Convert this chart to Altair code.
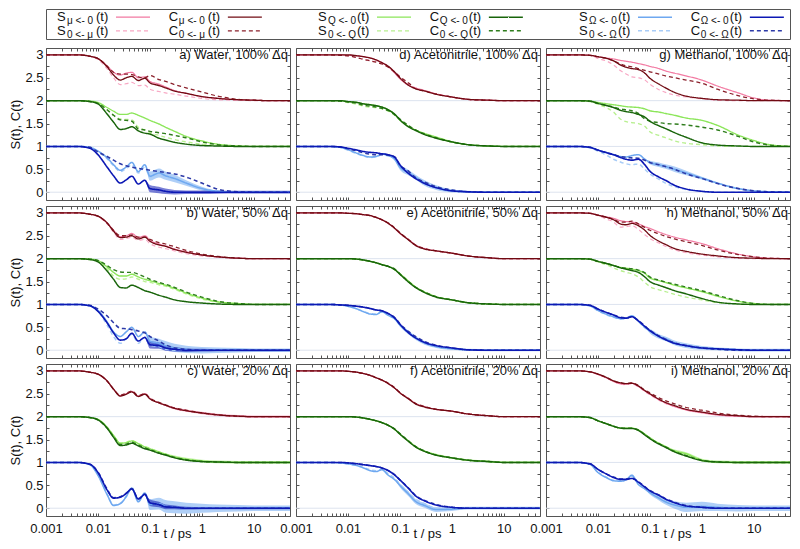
import altair as alt
import pandas as pd

T = [0.001, 0.004, 0.007, 0.01, 0.015, 0.02, 0.027, 0.035, 0.045, 0.06, 0.08, 0.1,
     0.15, 0.2, 0.3, 0.5, 1, 2, 5, 10, 20, 50]

SERIES = ["S0mu", "Smu", "C0mu", "Cmu", "S0Q", "SQ", "C0Q", "CQ", "S0W", "SW", "C0W", "CW"]
COLORS = ["#f8a8c4", "#f27aa2", "#8a1f2a", "#700a12",
          "#b8f090", "#8ce65a", "#2f7d1d", "#18640a",
          "#a8ccf7", "#6ea8f0", "#2d3aa8", "#0c18b4"]
DASHES = [[4, 3], [1, 0], [4, 3], [1, 0]] * 3
WIDTHS = [1.2, 1.6, 1.2, 1.8] * 3

PANEL_A = {
    "Smu":  [3, 3, 2.97, 2.92, 2.76, 2.62, 2.56, 2.6, 2.62, 2.5, 2.52, 2.42, 2.36, 2.3, 2.22, 2.16, 2.09, 2.05, 2.02, 2.01, 2.0, 2.0],
    "S0mu": [3, 3, 2.97, 2.9, 2.7, 2.5, 2.35, 2.37, 2.4, 2.33, 2.34, 2.25, 2.2, 2.17, 2.14, 2.1, 2.05, 2.02, 2.01, 2.0, 2.0, 2.0],
    "Cmu":  [3, 3, 2.97, 2.92, 2.74, 2.56, 2.45, 2.5, 2.53, 2.44, 2.49, 2.39, 2.33, 2.28, 2.21, 2.16, 2.09, 2.05, 2.02, 2.01, 2.0, 2.0],
    "C0mu": [3, 3, 2.97, 2.92, 2.76, 2.62, 2.58, 2.58, 2.57, 2.52, 2.5, 2.55, 2.46, 2.42, 2.35, 2.28, 2.19, 2.1, 2.03, 2.01, 2.0, 2.0],
    "SQ":   [2, 2, 1.99, 1.96, 1.85, 1.77, 1.7, 1.7, 1.73, 1.68, 1.62, 1.57, 1.49, 1.42, 1.33, 1.22, 1.12, 1.05, 1.01, 1.0, 1.0, 1.0],
    "S0Q":  [2, 2, 1.98, 1.95, 1.8, 1.68, 1.6, 1.59, 1.58, 1.42, 1.36, 1.3, 1.24, 1.2, 1.15, 1.1, 1.05, 1.02, 1.0, 1.0, 1.0, 1.0],
    "CQ":   [2, 2, 1.98, 1.93, 1.71, 1.53, 1.37, 1.39, 1.43, 1.34, 1.29, 1.27, 1.18, 1.14, 1.09, 1.05, 1.02, 1.01, 1.0, 1.0, 1.0, 1.0],
    "C0Q":  [2, 2, 1.98, 1.94, 1.8, 1.68, 1.58, 1.57, 1.55, 1.38, 1.36, 1.33, 1.3, 1.28, 1.24, 1.19, 1.1, 1.04, 1.01, 1.0, 1.0, 1.0],
    "SW":   [1, 1, 0.98, 0.9, 0.75, 0.6, 0.48, 0.55, 0.65, 0.45, 0.6, 0.35, 0.42, 0.36, 0.3, 0.2, 0.08, 0.02, 0.0, 0.0, 0.0, 0.0],
    "S0W":  [1, 1, 0.98, 0.89, 0.73, 0.58, 0.45, 0.52, 0.6, 0.42, 0.55, 0.33, 0.38, 0.33, 0.28, 0.2, 0.09, 0.02, 0.0, 0.0, 0.0, 0.0],
    "CW":   [1, 1, 0.96, 0.82, 0.55, 0.36, 0.2, 0.27, 0.35, 0.18, 0.26, 0.08, 0.05, 0.02, 0.0, 0.0, 0.0, 0.0, 0.0, 0.0, 0.0, 0.0],
    "C0W":  [1, 1, 0.98, 0.88, 0.78, 0.7, 0.62, 0.58, 0.55, 0.52, 0.5, 0.48, 0.45, 0.43, 0.4, 0.33, 0.2, 0.07, 0.01, 0.0, 0.0, 0.0],
}
PANEL_B = {
    "Smu":  [3, 3, 2.97, 2.93, 2.78, 2.62, 2.48, 2.5, 2.55, 2.46, 2.5, 2.4, 2.32, 2.28, 2.21, 2.15, 2.08, 2.04, 2.01, 2.0, 2.0, 2.0],
    "S0mu": [3, 3, 2.97, 2.92, 2.76, 2.58, 2.42, 2.44, 2.47, 2.4, 2.42, 2.33, 2.25, 2.22, 2.17, 2.11, 2.06, 2.03, 2.01, 2.0, 2.0, 2.0],
    "Cmu":  [3, 3, 2.97, 2.93, 2.78, 2.6, 2.46, 2.47, 2.5, 2.43, 2.47, 2.38, 2.3, 2.27, 2.2, 2.14, 2.08, 2.04, 2.01, 2.0, 2.0, 2.0],
    "C0mu": [3, 3, 2.97, 2.93, 2.78, 2.62, 2.5, 2.5, 2.52, 2.47, 2.47, 2.42, 2.35, 2.32, 2.26, 2.18, 2.1, 2.05, 2.01, 2.0, 2.0, 2.0],
    "SQ":   [2, 2, 1.99, 1.96, 1.82, 1.7, 1.62, 1.62, 1.66, 1.6, 1.55, 1.52, 1.46, 1.42, 1.35, 1.25, 1.14, 1.06, 1.02, 1.0, 1.0, 1.0],
    "S0Q":  [2, 2, 1.98, 1.95, 1.78, 1.62, 1.55, 1.56, 1.6, 1.55, 1.5, 1.48, 1.43, 1.4, 1.33, 1.23, 1.12, 1.05, 1.01, 1.0, 1.0, 1.0],
    "CQ":   [2, 2, 1.98, 1.93, 1.73, 1.55, 1.37, 1.36, 1.42, 1.37, 1.3, 1.27, 1.2, 1.16, 1.1, 1.06, 1.03, 1.01, 1.0, 1.0, 1.0, 1.0],
    "C0Q":  [2, 2, 1.99, 1.96, 1.85, 1.76, 1.71, 1.7, 1.7, 1.66, 1.6, 1.55, 1.48, 1.44, 1.37, 1.27, 1.16, 1.07, 1.02, 1.0, 1.0, 1.0],
    "SW":   [1, 1, 0.97, 0.87, 0.62, 0.4, 0.3, 0.4, 0.5, 0.3, 0.4, 0.2, 0.15, 0.1, 0.05, 0.02, 0.0, 0.0, 0.0, 0.0, 0.0, 0.0],
    "S0W":  [1, 1, 0.97, 0.85, 0.55, 0.3, 0.15, 0.25, 0.35, 0.15, 0.28, 0.1, 0.08, 0.02, 0.0, 0.0, 0.0, 0.0, 0.0, 0.0, 0.0, 0.0],
    "CW":   [1, 1, 0.97, 0.85, 0.6, 0.38, 0.22, 0.25, 0.37, 0.2, 0.28, 0.12, 0.1, 0.05, 0.02, 0.0, 0.0, 0.0, 0.0, 0.0, 0.0, 0.0],
    "C0W":  [1, 1, 0.98, 0.9, 0.75, 0.6, 0.48, 0.47, 0.45, 0.42, 0.38, 0.3, 0.2, 0.12, 0.05, 0.02, 0.0, 0.0, 0.0, 0.0, 0.0, 0.0],
}
PANEL_C = {
    "Smu":  [3, 3, 2.97, 2.93, 2.78, 2.6, 2.46, 2.5, 2.55, 2.45, 2.5, 2.4, 2.3, 2.25, 2.18, 2.13, 2.08, 2.04, 2.01, 2.0, 2.0, 2.0],
    "S0mu": [3, 3, 2.97, 2.93, 2.77, 2.6, 2.45, 2.5, 2.55, 2.45, 2.5, 2.4, 2.3, 2.25, 2.18, 2.13, 2.08, 2.04, 2.01, 2.0, 2.0, 2.0],
    "Cmu":  [3, 3, 2.97, 2.93, 2.78, 2.6, 2.45, 2.49, 2.54, 2.44, 2.49, 2.39, 2.3, 2.25, 2.18, 2.13, 2.08, 2.04, 2.01, 2.0, 2.0, 2.0],
    "C0mu": [3, 3, 2.97, 2.93, 2.78, 2.6, 2.47, 2.51, 2.56, 2.46, 2.5, 2.41, 2.31, 2.26, 2.19, 2.14, 2.08, 2.04, 2.01, 2.0, 2.0, 2.0],
    "SQ":   [2, 2, 1.98, 1.94, 1.77, 1.59, 1.42, 1.43, 1.47, 1.41, 1.34, 1.3, 1.23, 1.18, 1.12, 1.07, 1.03, 1.01, 1.0, 1.0, 1.0, 1.0],
    "S0Q":  [2, 2, 1.98, 1.94, 1.77, 1.59, 1.42, 1.44, 1.48, 1.41, 1.35, 1.31, 1.23, 1.18, 1.12, 1.07, 1.03, 1.01, 1.0, 1.0, 1.0, 1.0],
    "CQ":   [2, 2, 1.98, 1.93, 1.75, 1.55, 1.37, 1.38, 1.42, 1.36, 1.3, 1.27, 1.2, 1.16, 1.1, 1.05, 1.02, 1.01, 1.0, 1.0, 1.0, 1.0],
    "C0Q":  [2, 2, 1.98, 1.93, 1.75, 1.56, 1.39, 1.4, 1.44, 1.38, 1.32, 1.28, 1.21, 1.17, 1.11, 1.06, 1.02, 1.01, 1.0, 1.0, 1.0, 1.0],
    "SW":   [1, 1, 0.95, 0.72, 0.3, 0.06, 0.1, 0.25, 0.44, 0.14, 0.33, 0.08, 0.1, 0.04, 0.02, 0.0, 0.0, 0.0, 0.0, 0.0, 0.0, 0.0],
    "S0W":  [1, 1, 0.95, 0.73, 0.31, 0.07, 0.11, 0.26, 0.45, 0.15, 0.34, 0.08, 0.1, 0.04, 0.02, 0.0, 0.0, 0.0, 0.0, 0.0, 0.0, 0.0],
    "CW":   [1, 1, 0.96, 0.78, 0.4, 0.22, 0.24, 0.32, 0.42, 0.2, 0.3, 0.12, 0.08, 0.03, 0.02, 0.0, 0.0, 0.0, 0.0, 0.0, 0.0, 0.0],
    "C0W":  [1, 1, 0.96, 0.79, 0.42, 0.23, 0.25, 0.33, 0.43, 0.21, 0.31, 0.12, 0.08, 0.03, 0.02, 0.0, 0.0, 0.0, 0.0, 0.0, 0.0, 0.0],
}
PANEL_D = {
    "Smu":  [3, 3, 3, 2.99, 2.98, 2.96, 2.93, 2.89, 2.83, 2.74, 2.6, 2.48, 2.33, 2.28, 2.22, 2.15, 2.08, 2.03, 2.01, 2.0, 2.0, 2.0],
    "S0mu": [3, 3, 2.99, 2.98, 2.94, 2.91, 2.87, 2.85, 2.81, 2.74, 2.63, 2.53, 2.36, 2.27, 2.22, 2.15, 2.08, 2.03, 2.01, 2.0, 2.0, 2.0],
    "Cmu":  [3, 3, 3, 3, 2.98, 2.96, 2.93, 2.89, 2.83, 2.75, 2.62, 2.5, 2.33, 2.26, 2.21, 2.14, 2.08, 2.03, 2.01, 2.0, 2.0, 2.0],
    "C0mu": [3, 3, 2.99, 2.98, 2.94, 2.9, 2.87, 2.84, 2.8, 2.73, 2.62, 2.52, 2.38, 2.26, 2.21, 2.14, 2.08, 2.03, 2.01, 2.0, 2.0, 2.0],
    "SQ":   [2, 2, 2, 1.98, 1.96, 1.93, 1.91, 1.89, 1.86, 1.8, 1.7, 1.58, 1.43, 1.36, 1.28, 1.2, 1.1, 1.04, 1.01, 1.0, 1.0, 1.0],
    "S0Q":  [2, 2, 1.99, 1.96, 1.92, 1.88, 1.86, 1.85, 1.82, 1.77, 1.68, 1.58, 1.44, 1.36, 1.28, 1.2, 1.1, 1.04, 1.01, 1.0, 1.0, 1.0],
    "CQ":   [2, 2, 2, 1.98, 1.96, 1.93, 1.91, 1.89, 1.86, 1.8, 1.7, 1.58, 1.42, 1.35, 1.26, 1.18, 1.1, 1.04, 1.01, 1.0, 1.0, 1.0],
    "C0Q":  [2, 2, 1.99, 1.97, 1.94, 1.9, 1.88, 1.86, 1.83, 1.78, 1.69, 1.6, 1.45, 1.36, 1.27, 1.19, 1.1, 1.04, 1.01, 1.0, 1.0, 1.0],
    "SW":   [1, 1, 0.98, 0.93, 0.85, 0.8, 0.77, 0.78, 0.84, 0.8, 0.72, 0.55, 0.42, 0.33, 0.2, 0.1, 0.03, 0.01, 0.0, 0.0, 0.0, 0.0],
    "S0W":  [1, 1, 0.98, 0.92, 0.84, 0.79, 0.76, 0.77, 0.82, 0.79, 0.72, 0.55, 0.44, 0.33, 0.22, 0.12, 0.05, 0.01, 0.0, 0.0, 0.0, 0.0],
    "CW":   [1, 1, 0.99, 0.96, 0.92, 0.89, 0.87, 0.86, 0.84, 0.82, 0.76, 0.6, 0.4, 0.3, 0.19, 0.1, 0.03, 0.01, 0.0, 0.0, 0.0, 0.0],
    "C0W":  [1, 1, 0.99, 0.95, 0.9, 0.86, 0.83, 0.82, 0.82, 0.81, 0.77, 0.6, 0.45, 0.32, 0.22, 0.12, 0.05, 0.01, 0.0, 0.0, 0.0, 0.0],
}
PANEL_E = {
    "Smu":  [3, 3, 3, 2.99, 2.98, 2.96, 2.94, 2.9, 2.85, 2.77, 2.66, 2.55, 2.41, 2.3, 2.22, 2.17, 2.12, 2.06, 2.02, 2.0, 2.0, 2.0],
    "S0mu": [3, 3, 3, 2.99, 2.98, 2.96, 2.94, 2.9, 2.85, 2.77, 2.67, 2.56, 2.4, 2.29, 2.22, 2.17, 2.12, 2.06, 2.02, 2.0, 2.0, 2.0],
    "Cmu":  [3, 3, 3, 2.99, 2.98, 2.96, 2.94, 2.9, 2.85, 2.77, 2.66, 2.56, 2.4, 2.29, 2.21, 2.17, 2.12, 2.06, 2.02, 2.0, 2.0, 2.0],
    "C0mu": [3, 3, 3, 2.99, 2.98, 2.96, 2.94, 2.9, 2.85, 2.78, 2.67, 2.57, 2.41, 2.3, 2.22, 2.17, 2.12, 2.06, 2.02, 2.0, 2.0, 2.0],
    "SQ":   [2, 2, 2, 2, 1.99, 1.97, 1.94, 1.91, 1.87, 1.83, 1.76, 1.67, 1.5, 1.38, 1.27, 1.17, 1.1, 1.04, 1.01, 1.0, 1.0, 1.0],
    "S0Q":  [2, 2, 2, 2, 1.99, 1.97, 1.94, 1.91, 1.87, 1.83, 1.76, 1.66, 1.49, 1.38, 1.27, 1.17, 1.1, 1.04, 1.01, 1.0, 1.0, 1.0],
    "CQ":   [2, 2, 2, 2, 1.99, 1.97, 1.94, 1.91, 1.87, 1.83, 1.76, 1.66, 1.48, 1.37, 1.26, 1.16, 1.1, 1.04, 1.01, 1.0, 1.0, 1.0],
    "C0Q":  [2, 2, 2, 2, 1.99, 1.97, 1.94, 1.91, 1.87, 1.83, 1.77, 1.67, 1.49, 1.38, 1.27, 1.17, 1.1, 1.04, 1.01, 1.0, 1.0, 1.0],
    "SW":   [1, 1, 0.99, 0.96, 0.9, 0.84, 0.79, 0.78, 0.84, 0.76, 0.68, 0.55, 0.38, 0.27, 0.16, 0.08, 0.03, 0.01, 0.0, 0.0, 0.0, 0.0],
    "S0W":  [1, 1, 0.99, 0.96, 0.9, 0.85, 0.8, 0.79, 0.84, 0.76, 0.69, 0.56, 0.39, 0.28, 0.17, 0.09, 0.03, 0.01, 0.0, 0.0, 0.0, 0.0],
    "CW":   [1, 1, 0.99, 0.98, 0.96, 0.94, 0.91, 0.88, 0.86, 0.8, 0.7, 0.57, 0.37, 0.27, 0.17, 0.1, 0.05, 0.01, 0.0, 0.0, 0.0, 0.0],
    "C0W":  [1, 1, 0.99, 0.98, 0.96, 0.94, 0.91, 0.88, 0.86, 0.8, 0.71, 0.58, 0.4, 0.3, 0.19, 0.11, 0.05, 0.01, 0.0, 0.0, 0.0, 0.0],
}
PANEL_F = {
    "Smu":  [3, 3, 3, 2.99, 2.97, 2.94, 2.9, 2.85, 2.8, 2.72, 2.62, 2.52, 2.39, 2.29, 2.22, 2.16, 2.12, 2.06, 2.02, 2.0, 2.0, 2.0],
    "S0mu": [3, 3, 3, 2.99, 2.97, 2.94, 2.9, 2.85, 2.8, 2.72, 2.63, 2.53, 2.38, 2.28, 2.21, 2.16, 2.12, 2.06, 2.02, 2.0, 2.0, 2.0],
    "Cmu":  [3, 3, 3, 2.99, 2.97, 2.94, 2.9, 2.85, 2.8, 2.72, 2.62, 2.52, 2.38, 2.28, 2.21, 2.16, 2.12, 2.06, 2.02, 2.0, 2.0, 2.0],
    "C0mu": [3, 3, 3, 2.99, 2.97, 2.94, 2.9, 2.85, 2.8, 2.73, 2.63, 2.53, 2.39, 2.29, 2.22, 2.16, 2.12, 2.06, 2.02, 2.0, 2.0, 2.0],
    "SQ":   [2, 2, 2, 2, 1.99, 1.97, 1.94, 1.91, 1.87, 1.81, 1.72, 1.62, 1.46, 1.35, 1.25, 1.17, 1.1, 1.05, 1.02, 1.0, 1.0, 1.0],
    "S0Q":  [2, 2, 2, 2, 1.99, 1.97, 1.94, 1.91, 1.87, 1.81, 1.72, 1.62, 1.45, 1.34, 1.24, 1.16, 1.1, 1.05, 1.02, 1.0, 1.0, 1.0],
    "CQ":   [2, 2, 2, 2, 1.99, 1.97, 1.94, 1.91, 1.87, 1.81, 1.72, 1.62, 1.45, 1.34, 1.24, 1.16, 1.1, 1.05, 1.02, 1.0, 1.0, 1.0],
    "C0Q":  [2, 2, 2, 2, 1.99, 1.97, 1.94, 1.91, 1.87, 1.81, 1.73, 1.63, 1.46, 1.35, 1.25, 1.16, 1.1, 1.05, 1.02, 1.0, 1.0, 1.0],
    "SW":   [1, 1, 0.99, 0.97, 0.93, 0.88, 0.82, 0.8, 0.84, 0.72, 0.62, 0.5, 0.3, 0.15, 0.06, -0.03, -0.02, 0.0, 0.0, 0.0, 0.0, 0.0],
    "S0W":  [1, 1, 0.99, 0.97, 0.93, 0.89, 0.84, 0.82, 0.85, 0.75, 0.65, 0.53, 0.33, 0.2, 0.1, 0.0, -0.02, 0.0, 0.0, 0.0, 0.0, 0.0],
    "CW":   [1, 1, 1, 0.99, 0.97, 0.95, 0.93, 0.91, 0.88, 0.82, 0.72, 0.62, 0.42, 0.27, 0.16, 0.07, 0.02, 0.0, 0.0, 0.0, 0.0, 0.0],
    "C0W":  [1, 1, 1, 0.99, 0.97, 0.95, 0.93, 0.91, 0.88, 0.82, 0.73, 0.62, 0.43, 0.28, 0.17, 0.08, 0.02, 0.0, 0.0, 0.0, 0.0, 0.0],
}
PANEL_G = {
    "Smu":  [3, 3, 2.99, 2.96, 2.93, 2.91, 2.88, 2.86, 2.84, 2.81, 2.78, 2.75, 2.7, 2.65, 2.6, 2.54, 2.45, 2.32, 2.17, 2.06, 2.01, 2.0],
    "S0mu": [3, 3, 2.99, 2.92, 2.86, 2.78, 2.66, 2.58, 2.52, 2.5, 2.45, 2.36, 2.24, 2.18, 2.12, 2.08, 2.04, 2.01, 2.0, 2.0, 2.0, 2.0],
    "Cmu":  [3, 3, 2.99, 2.96, 2.92, 2.87, 2.78, 2.73, 2.7, 2.68, 2.6, 2.49, 2.36, 2.28, 2.18, 2.1, 2.05, 2.02, 2.01, 2.0, 2.0, 2.0],
    "C0mu": [3, 3, 2.99, 2.96, 2.92, 2.87, 2.8, 2.76, 2.74, 2.7, 2.66, 2.63, 2.58, 2.54, 2.5, 2.45, 2.38, 2.25, 2.11, 2.04, 2.01, 2.0],
    "SQ":   [2, 2, 1.99, 1.96, 1.93, 1.91, 1.89, 1.87, 1.86, 1.85, 1.82, 1.78, 1.75, 1.72, 1.68, 1.62, 1.57, 1.46, 1.25, 1.13, 1.04, 1.0],
    "S0Q":  [2, 2, 1.98, 1.92, 1.84, 1.75, 1.6, 1.54, 1.52, 1.5, 1.44, 1.32, 1.24, 1.19, 1.12, 1.07, 1.04, 1.01, 1.0, 1.0, 1.0, 1.0],
    "CQ":   [2, 2, 1.99, 1.94, 1.89, 1.85, 1.79, 1.76, 1.74, 1.7, 1.64, 1.55, 1.45, 1.39, 1.3, 1.2, 1.08, 1.03, 1.01, 1.0, 1.0, 1.0],
    "C0Q":  [2, 2, 1.99, 1.94, 1.89, 1.86, 1.82, 1.8, 1.78, 1.72, 1.6, 1.55, 1.52, 1.5, 1.49, 1.47, 1.42, 1.36, 1.22, 1.1, 1.03, 1.0],
    "SW":   [1, 1, 0.98, 0.92, 0.86, 0.82, 0.78, 0.77, 0.8, 0.82, 0.72, 0.65, 0.6, 0.56, 0.5, 0.42, 0.31, 0.2, 0.08, 0.03, 0.01, 0.0],
    "S0W":  [1, 1, 0.97, 0.9, 0.8, 0.72, 0.66, 0.62, 0.6, 0.62, 0.5, 0.4, 0.28, 0.2, 0.12, 0.06, 0.02, 0.0, 0.0, 0.0, 0.0, 0.0],
    "CW":   [1, 1, 0.98, 0.92, 0.86, 0.82, 0.76, 0.72, 0.7, 0.72, 0.6, 0.46, 0.33, 0.26, 0.15, 0.07, 0.02, 0.0, 0.0, 0.0, 0.0, 0.0],
    "C0W":  [1, 1, 0.98, 0.92, 0.86, 0.82, 0.78, 0.76, 0.75, 0.74, 0.7, 0.65, 0.6, 0.56, 0.5, 0.4, 0.3, 0.19, 0.08, 0.03, 0.01, 0.0],
}
PANEL_H = {
    "Smu":  [3, 3, 2.99, 2.95, 2.91, 2.88, 2.83, 2.81, 2.8, 2.76, 2.7, 2.66, 2.58, 2.53, 2.47, 2.41, 2.33, 2.22, 2.1, 2.04, 2.01, 2.0],
    "S0mu": [3, 3, 2.99, 2.94, 2.86, 2.8, 2.69, 2.7, 2.72, 2.64, 2.52, 2.44, 2.34, 2.27, 2.19, 2.13, 2.08, 2.04, 2.01, 2.0, 2.0, 2.0],
    "Cmu":  [3, 3, 2.99, 2.95, 2.9, 2.85, 2.76, 2.74, 2.77, 2.72, 2.62, 2.51, 2.38, 2.31, 2.22, 2.16, 2.1, 2.06, 2.02, 2.01, 2.0, 2.0],
    "C0mu": [3, 3, 2.99, 2.95, 2.9, 2.86, 2.8, 2.8, 2.82, 2.76, 2.68, 2.62, 2.54, 2.49, 2.43, 2.37, 2.29, 2.19, 2.09, 2.04, 2.01, 2.0],
    "SQ":   [2, 2, 1.99, 1.94, 1.89, 1.85, 1.81, 1.79, 1.77, 1.74, 1.68, 1.58, 1.52, 1.48, 1.42, 1.36, 1.28, 1.18, 1.07, 1.02, 1.0, 1.0],
    "S0Q":  [2, 2, 1.99, 1.93, 1.86, 1.8, 1.74, 1.7, 1.67, 1.6, 1.48, 1.39, 1.32, 1.28, 1.22, 1.16, 1.1, 1.04, 1.01, 1.0, 1.0, 1.0],
    "CQ":   [2, 2, 1.99, 1.94, 1.89, 1.85, 1.8, 1.77, 1.74, 1.7, 1.6, 1.5, 1.42, 1.37, 1.3, 1.23, 1.13, 1.05, 1.01, 1.0, 1.0, 1.0],
    "C0Q":  [2, 2, 1.99, 1.94, 1.89, 1.85, 1.81, 1.79, 1.78, 1.75, 1.69, 1.6, 1.53, 1.49, 1.44, 1.38, 1.3, 1.2, 1.08, 1.02, 1.0, 1.0],
    "SW":   [1, 1, 0.97, 0.87, 0.78, 0.73, 0.69, 0.7, 0.75, 0.64, 0.5, 0.42, 0.3, 0.25, 0.16, 0.1, 0.05, 0.03, 0.01, 0.0, 0.0, 0.0],
    "S0W":  [1, 1, 0.97, 0.86, 0.77, 0.72, 0.68, 0.69, 0.74, 0.63, 0.49, 0.41, 0.29, 0.24, 0.16, 0.1, 0.05, 0.02, 0.0, 0.0, 0.0, 0.0],
    "CW":   [1, 1, 0.98, 0.9, 0.82, 0.77, 0.71, 0.7, 0.73, 0.64, 0.52, 0.43, 0.3, 0.23, 0.15, 0.1, 0.05, 0.03, 0.01, 0.0, 0.0, 0.0],
    "C0W":  [1, 1, 0.98, 0.9, 0.82, 0.77, 0.72, 0.71, 0.73, 0.65, 0.53, 0.44, 0.31, 0.24, 0.16, 0.1, 0.05, 0.02, 0.0, 0.0, 0.0, 0.0],
}
PANEL_I = {
    "Smu":  [3, 3, 2.98, 2.92, 2.84, 2.77, 2.72, 2.71, 2.73, 2.66, 2.56, 2.49, 2.37, 2.3, 2.22, 2.15, 2.09, 2.04, 2.01, 2.0, 2.0, 2.0],
    "S0mu": [3, 3, 2.98, 2.92, 2.84, 2.77, 2.71, 2.7, 2.72, 2.65, 2.55, 2.48, 2.36, 2.29, 2.22, 2.15, 2.09, 2.04, 2.01, 2.0, 2.0, 2.0],
    "Cmu":  [3, 3, 2.98, 2.93, 2.85, 2.78, 2.74, 2.72, 2.73, 2.67, 2.57, 2.5, 2.38, 2.31, 2.24, 2.16, 2.1, 2.05, 2.02, 2.0, 2.0, 2.0],
    "C0mu": [3, 3, 2.98, 2.93, 2.85, 2.78, 2.74, 2.72, 2.74, 2.68, 2.58, 2.52, 2.41, 2.35, 2.28, 2.2, 2.14, 2.08, 2.03, 2.01, 2.0, 2.0],
    "SQ":   [2, 2, 1.98, 1.91, 1.84, 1.79, 1.75, 1.75, 1.75, 1.71, 1.62, 1.54, 1.42, 1.35, 1.25, 1.19, 1.05, 1.01, 1.0, 1.0, 1.0, 1.0],
    "S0Q":  [2, 2, 1.98, 1.91, 1.84, 1.79, 1.75, 1.74, 1.75, 1.7, 1.61, 1.53, 1.41, 1.34, 1.24, 1.15, 1.05, 1.01, 1.0, 1.0, 1.0, 1.0],
    "CQ":   [2, 2, 1.98, 1.91, 1.84, 1.79, 1.75, 1.74, 1.74, 1.7, 1.6, 1.52, 1.4, 1.33, 1.23, 1.14, 1.04, 1.01, 1.0, 1.0, 1.0, 1.0],
    "C0Q":  [2, 2, 1.98, 1.91, 1.84, 1.79, 1.75, 1.75, 1.75, 1.71, 1.61, 1.53, 1.41, 1.34, 1.24, 1.15, 1.05, 1.01, 1.0, 1.0, 1.0, 1.0],
    "SW":   [1, 1, 0.96, 0.78, 0.66, 0.6, 0.59, 0.62, 0.72, 0.52, 0.42, 0.34, 0.22, 0.14, 0.07, 0.02, 0.04, 0.02, 0.0, 0.0, 0.0, 0.0],
    "S0W":  [1, 1, 0.96, 0.79, 0.67, 0.61, 0.6, 0.63, 0.7, 0.53, 0.43, 0.35, 0.23, 0.15, 0.08, 0.03, 0.02, 0.01, 0.0, 0.0, 0.0, 0.0],
    "CW":   [1, 1, 0.97, 0.85, 0.74, 0.67, 0.63, 0.63, 0.65, 0.57, 0.46, 0.38, 0.28, 0.2, 0.12, 0.05, 0.02, 0.0, 0.0, 0.0, 0.0, 0.0],
    "C0W":  [1, 1, 0.97, 0.85, 0.74, 0.68, 0.64, 0.64, 0.66, 0.58, 0.47, 0.39, 0.29, 0.21, 0.13, 0.06, 0.02, 0.0, 0.0, 0.0, 0.0, 0.0],
}

# half-width of the noisy / fast-oscillating scatter seen round a curve (same time grid)
NOISE_A = {
    "SW": [0, 0, 0, 0, 0, 0, 0, 0, 0, 0, 0, 0.1, 0.1, 0.09, 0.08, 0.06, 0.04, 0.02, 0.02, 0.02, 0.02, 0.02],
    "CW": [0, 0, 0, 0, 0, 0, 0, 0, 0, 0, 0, 0.08, 0.07, 0.06, 0.05, 0.04, 0.04, 0.035, 0.03, 0.03, 0.03, 0.03],
}
NOISE_B = {
    "SW": [0, 0, 0, 0, 0, 0, 0, 0, 0, 0, 0, 0.1, 0.1, 0.1, 0.09, 0.08, 0.07, 0.06, 0.05, 0.04, 0.04, 0.04],
    "CW": [0, 0, 0, 0, 0, 0, 0, 0, 0, 0, 0, 0.08, 0.07, 0.06, 0.05, 0.04, 0.03, 0.02, 0.02, 0.02, 0.02, 0.02],
}
NOISE_C = {
    "SW": [0, 0, 0, 0, 0, 0, 0, 0, 0, 0, 0, 0.12, 0.13, 0.14, 0.13, 0.12, 0.1, 0.08, 0.07, 0.06, 0.06, 0.06],
    "CW": [0, 0, 0, 0, 0, 0, 0, 0, 0, 0, 0, 0.07, 0.06, 0.05, 0.04, 0.03, 0.02, 0.02, 0.02, 0.02, 0.02, 0.02],
    "SQ": [0, 0, 0, 0, 0, 0, 0, 0, 0, 0, 0, 0, 0, 0.02, 0.03, 0.03, 0.03, 0.03, 0.03, 0.03, 0.03, 0.03],
    "Smu": [0, 0, 0, 0, 0, 0, 0, 0, 0, 0, 0, 0, 0, 0.02, 0.025, 0.025, 0.025, 0.025, 0.025, 0.025, 0.025, 0.025],
}
NOISE_D = {
    "SW": [0, 0, 0, 0, 0, 0, 0, 0, 0, 0, 0.04, 0.06, 0.06, 0.05, 0.06, 0.05, 0.03, 0.02, 0.015, 0.015, 0.015, 0.015],
    "SQ": [0, 0, 0, 0, 0, 0, 0, 0, 0, 0, 0, 0, 0, 0, 0.02, 0.02, 0.02, 0.01, 0.01, 0.01, 0.01, 0.01],
}
NOISE_E = {
    "SW": [0, 0, 0, 0, 0, 0, 0, 0, 0, 0, 0, 0.03, 0.04, 0.04, 0.04, 0.03, 0.02, 0.02, 0.02, 0.02, 0.02, 0.02],
}
NOISE_F = {
    "SW": [0, 0, 0, 0, 0, 0, 0, 0, 0, 0, 0, 0.04, 0.05, 0.05, 0.05, 0.05, 0.04, 0.03, 0.03, 0.03, 0.03, 0.03],
    "SQ": [0, 0, 0, 0, 0, 0, 0, 0, 0, 0, 0, 0, 0, 0, 0, 0.02, 0.02, 0.02, 0.02, 0.02, 0.02, 0.02],
}
NOISE_G = {
    "SW": [0, 0, 0, 0, 0, 0, 0, 0, 0, 0, 0, 0.04, 0.05, 0.05, 0.06, 0.05, 0.03, 0.02, 0.02, 0.01, 0.01, 0.01],
}
NOISE_H = {
    "SW": [0, 0, 0, 0, 0, 0, 0, 0, 0, 0, 0, 0.05, 0.05, 0.05, 0.05, 0.05, 0.04, 0.03, 0.03, 0.03, 0.03, 0.03],
}
NOISE_I = {
    "SW": [0, 0, 0, 0, 0, 0, 0, 0, 0, 0, 0, 0.04, 0.05, 0.06, 0.08, 0.1, 0.1, 0.08, 0.07, 0.06, 0.06, 0.06],
    "SQ": [0, 0, 0, 0, 0, 0, 0, 0, 0, 0, 0, 0, 0, 0, 0.03, 0.03, 0.03, 0.03, 0.03, 0.03, 0.03, 0.03],
    "Smu": [0, 0, 0, 0, 0, 0, 0, 0, 0, 0, 0, 0, 0, 0, 0, 0.02, 0.02, 0.02, 0.02, 0.02, 0.02, 0.02],
}

PANELS = {"a": PANEL_A, "b": PANEL_B, "c": PANEL_C, "d": PANEL_D, "e": PANEL_E,
          "f": PANEL_F, "g": PANEL_G, "h": PANEL_H, "i": PANEL_I}
NOISE = {"a": NOISE_A, "b": NOISE_B, "c": NOISE_C, "d": NOISE_D, "e": NOISE_E,
         "f": NOISE_F, "g": NOISE_G, "h": NOISE_H, "i": NOISE_I}
TITLES = {"a": "a) Water, 100% Δq", "b": "b) Water, 50% Δq", "c": "c) Water, 20% Δq",
          "d": "d) Acetonitrile, 100% Δq", "e": "e) Acetonitrile, 50% Δq", "f": "f) Acetonitrile, 20% Δq",
          "g": "g) Methanol, 100% Δq", "h": "h) Methanol, 50% Δq", "i": "i) Methanol, 20% Δq"}
LAYOUT = [["a", "d", "g"], ["b", "e", "h"], ["c", "f", "i"]]
GRID_LINES = [0, 1, 2]

# legend entries
LEG_SERIES = ["Smu", "S0mu", "Cmu", "C0mu", "SQ", "S0Q", "CQ", "C0Q", "SW", "S0W", "CW", "C0W"]
LEG_MAIN = ["S", "S", "C", "C"] * 3
LEG_SUB = ["μ <- 0", "0 <- μ", "μ <- 0", "0 <- μ",
           "Q <- 0", "0 <- Q", "Q <- 0", "0 <- Q",
           "Ω <- 0", "0 <- Ω", "Ω <- 0", "0 <- Ω"]
LEG_GROUP = [0, 0, 0, 0, 1, 1, 1, 1, 2, 2, 2, 2]
LEG_KIND = [0, 0, 1, 1] * 3
LEG_ROW = [0, 1, 0, 1] * 3

FONT = "Liberation Sans"
PW, PH, GAP, LEG_H = 244, 152, 6, 30
XMAJOR = [0.001, 0.01, 0.1, 1, 10]
XTICKS = sorted({round(m * k, 6) for m in XMAJOR for k in range(1, 10) if m * k <= 50})
YTICKS = [i * 0.25 for i in range(13)]
XS = alt.Scale(type="log", domain=[0.001, 50], nice=False)
YS = alt.Scale(domain=[-0.17, 3.15], nice=False, zero=False)
CS = alt.Scale(domain=SERIES, range=COLORS)
DS = alt.Scale(domain=SERIES, range=DASHES)
WS = alt.Scale(domain=SERIES, range=WIDTHS)
TICK_COLOR = "#555555"
TEXT_COLOR = "#111111"


def frame(pdict):
    rows = []
    for s in SERIES:
        for t, v in zip(T, pdict[s]):
            rows.append({"series": s, "t": t, "v": v})
    return pd.DataFrame(rows)


def noise_frame(pdict, ndict):
    rows = []
    for s in SERIES:
        if s not in ndict:
            continue
        for t, v, n in zip(T, pdict[s], ndict[s]):
            rows.append({"series": s, "t": t, "lo": v - n, "hi": v + n})
    return pd.DataFrame(rows)


def x_bottom(show):
    kw = dict(orient="bottom", values=XTICKS, offset=-3, tickSize=3, tickColor=TICK_COLOR,
              domain=False, grid=False, labels=show, labelOverlap=False, labelFlush=False,
              labelBound=False, labelPadding=6, labelFontSize=13, labelColor=TEXT_COLOR,
              labelExpr="indexof([0.001, 0.01, 0.1, 1, 10], datum.value) >= 0 ? datum.value + '' : ''")
    if show:
        kw.update(title="t / ps", titleX=131, titleY=20, titleBaseline="middle", titleAlign="center",
                  titleFontSize=13, titleFontWeight="normal", titleColor=TEXT_COLOR)
    else:
        kw.update(title=None)
    return alt.Axis(**kw)


def y_left(show):
    kw = dict(orient="left", values=YTICKS, offset=-3, tickSize=3, tickColor=TICK_COLOR,
              domain=False, grid=False, labels=show, labelPadding=3, labelFontSize=13,
              labelColor=TEXT_COLOR, labelOverlap=False,
              labelExpr="(datum.value * 2) % 1 == 0 ? datum.value + '' : ''")
    if show:
        kw.update(title="S(t), C(t)", titlePadding=2, titleFontSize=13, titleFontWeight="normal",
                  titleColor=TEXT_COLOR, minExtent=25, maxExtent=25)
    else:
        kw.update(title=None)
    return alt.Axis(**kw)


X_TOP = alt.Axis(orient="top", values=XTICKS, offset=-3, tickSize=3, tickColor=TICK_COLOR,
                 domain=False, grid=False, labels=False, title=None)
Y_RIGHT = alt.Axis(orient="right", values=YTICKS, offset=-3, tickSize=3, tickColor=TICK_COLOR,
                   domain=False, grid=False, labels=False, title=None)


def panel(key, r, c):
    d = frame(PANELS[key])
    nz = noise_frame(PANELS[key], NOISE[key])
    grid = alt.Chart(pd.DataFrame({"g": GRID_LINES})).mark_rule(
        color="#dde3ef", strokeWidth=1).encode(y=alt.Y("g:Q", scale=YS, axis=None))
    band = alt.Chart(nz).mark_area(interpolate="monotone", clip=True, opacity=0.55).encode(
        x=alt.X("t:Q", scale=XS, axis=None),
        y=alt.Y("lo:Q", scale=YS, axis=None),
        y2="hi:Q",
        color=alt.Color("series:N", scale=CS, legend=None),
        detail="series:N",
    )
    lines = alt.Chart(d).mark_line(interpolate="monotone", clip=True).encode(
        x=alt.X("t:Q", scale=XS, axis=x_bottom(r == 2)),
        y=alt.Y("v:Q", scale=YS, axis=y_left(c == 0)),
        color=alt.Color("series:N", scale=CS, legend=None),
        strokeDash=alt.StrokeDash("series:N", scale=DS, legend=None),
        strokeWidth=alt.StrokeWidth("series:N", scale=WS, legend=None),
    )
    ghost = alt.Chart(d).mark_point(opacity=0, size=1).encode(
        x=alt.X("t:Q", scale=XS, axis=X_TOP),
        y=alt.Y("v:Q", scale=YS, axis=Y_RIGHT),
    )
    label = alt.Chart(pd.DataFrame({"label": [TITLES[key]]})).mark_text(
        align="right", baseline="top", fontSize=13, font=FONT, color=TEXT_COLOR
    ).encode(x=alt.value(PW - 2), y=alt.value(1), text="label:N")
    return alt.layer(grid, band, lines, ghost, label).properties(width=PW, height=PH)


panels = [panel(LAYOUT[r][c], r, c) for r in range(3) for c in range(3)]
# "flush": the grid is laid out on the plot rectangles only, so the tick labels that
# hang past a panel edge (e.g. "0.001") do not widen the gaps between panels
grid_chart = alt.concat(*panels, columns=3, spacing=GAP, align="each", bounds="flush")

# legend box
leg = pd.DataFrame({
    "series": LEG_SERIES, "main": LEG_MAIN, "sub": LEG_SUB,
    "slot": [g + 0.4286 * k for g, k in zip(LEG_GROUP, LEG_KIND)], "row": LEG_ROW,
})
LEG_W = 3 * PW + 2 * GAP
leg_x = alt.X("slot:Q", scale=alt.Scale(domain=[0, LEG_W / 261.0], nice=False, zero=False), axis=None)
# invisible one-letter title keeps the legend box aligned with the panels below
leg_axis = alt.Axis(orient="left", labels=False, ticks=False, domain=False, offset=-3,
                    title="S", titleOpacity=0, titlePadding=2, titleFontSize=13,
                    titleFontWeight="normal", minExtent=25, maxExtent=25)
leg_y = alt.Y("row:O", scale=alt.Scale(type="point", padding=0.6), axis=leg_axis)
leg_base = alt.Chart(leg)
leg_main = leg_base.mark_text(align="left", baseline="middle", dx=11, fontSize=13, font=FONT,
                              color=TEXT_COLOR).encode(x=leg_x, y=leg_y, text="main:N")
leg_sub = leg_base.mark_text(align="left", baseline="middle", dx=21, dy=4, fontSize=10, font=FONT,
                             color=TEXT_COLOR).encode(x=leg_x, y=leg_y, text="sub:N")
leg_t = leg_base.mark_text(align="left", baseline="middle", dx=50, fontSize=13, font=FONT,
                           color=TEXT_COLOR).encode(x=leg_x, y=leg_y, text=alt.value("(t)"))
leg_line = leg_base.mark_rule(xOffset=70, x2Offset=104).encode(
    x=leg_x, x2="slot:Q", y=leg_y,
    color=alt.Color("series:N", scale=CS, legend=None),
    strokeDash=alt.StrokeDash("series:N", scale=DS, legend=None),
    strokeWidth=alt.StrokeWidth("series:N", scale=WS, legend=None),
)
legend = alt.layer(leg_line, leg_main, leg_sub, leg_t).properties(width=LEG_W, height=LEG_H)

chart = alt.vconcat(legend, grid_chart, spacing=GAP).properties(
    padding={"left": 0, "top": 0, "right": 0, "bottom": 0}
).configure(font=FONT).configure_view(stroke="#555555", strokeWidth=1)

chart.save("out.html", embed_options={"renderer": "svg", "actions": False})
